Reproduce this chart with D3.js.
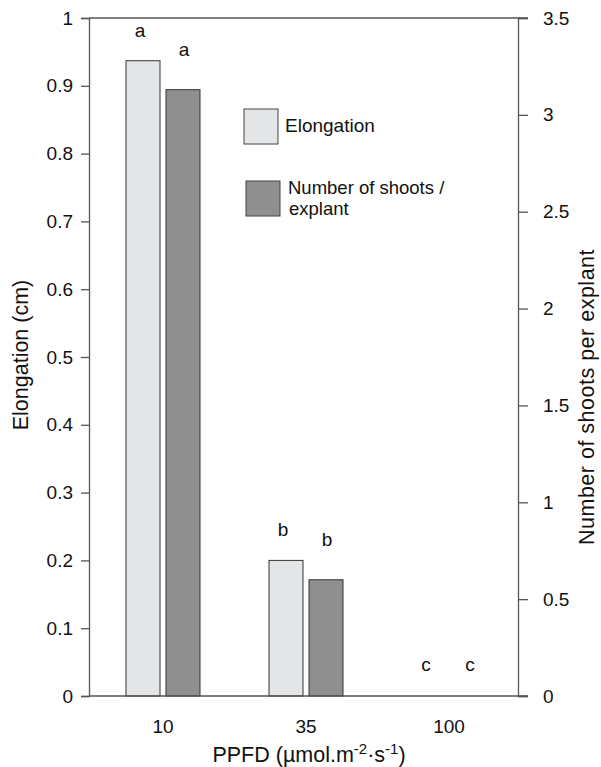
<!DOCTYPE html>
<html>
<head>
<meta charset="utf-8">
<script src="https://cdn.jsdelivr.net/npm/d3@7"></script>
<style>
  body { margin: 0; background: #fff; }
  text { font-family: Arial, "Liberation Sans", sans-serif; fill: #111; }
</style>
</head>
<body>
<svg id="chart" width="601" height="767"></svg>
<script>
'use strict';

// data
const ppfd = ["10", "35", "100"];
const elongation = [0.937, 0.2, 0];       // cm, left axis
const shoots = [3.13, 0.6, 0];            // shoots per explant, right axis
const lettersElong = ["a", "b", "c"];
const lettersShoots = ["a", "b", "c"];
const leftTicks = [0, 0.1, 0.2, 0.3, 0.4, 0.5, 0.6, 0.7, 0.8, 0.9, 1];
const rightTicks = [0, 0.5, 1, 1.5, 2, 2.5, 3, 3.5];

(function () {
	const svg = d3.select("#chart");
	const left = 89, right = 518, top = 18, bottom = 696;
	const axisColor = "#555";

	const yL = d3.scaleLinear().domain([0, 1]).range([bottom, top]);
	const yR = d3.scaleLinear().domain([0, 3.5]).range([bottom, top]);
	const x = d3.scalePoint().domain(ppfd).range([163, 449]);

	const barW = 34;

	// bars
	const g = svg.append("g");
	g.selectAll("rect.elong")
		.data(ppfd.map((p, i) => ({ p, v: elongation[i] })).filter(d => d.v > 0))
		.enter().append("rect")
		.attr("x", d => x(d.p) - 37)
		.attr("y", d => yL(d.v))
		.attr("width", barW)
		.attr("height", d => bottom - yL(d.v))
		.style("fill", "#e4e5e7")
		.style("stroke", "#333")
		.style("stroke-width", 1);

	g.selectAll("rect.shoot")
		.data(ppfd.map((p, i) => ({ p, v: shoots[i] })).filter(d => d.v > 0))
		.enter().append("rect")
		.attr("x", d => x(d.p) + 3)
		.attr("y", d => yR(d.v))
		.attr("width", barW)
		.attr("height", d => bottom - yR(d.v))
		.style("fill", "#8e8f8e")
		.style("stroke", "#333")
		.style("stroke-width", 1);

	// significance letters (sit at the bottom when the bar is empty)
	g.selectAll("text.le")
		.data(ppfd)
		.enter().append("text")
		.attr("x", d => x(d) - 23)
		.attr("y", (d, i) => elongation[i] > 0 ? yL(elongation[i]) - 24 : bottom - 25)
		.attr("text-anchor", "middle")
		.style("font-size", "19px")
		.text((d, i) => lettersElong[i]);

	g.selectAll("text.ls")
		.data(ppfd)
		.enter().append("text")
		.attr("x", d => x(d) + 21)
		.attr("y", (d, i) => shoots[i] > 0 ? yR(shoots[i]) - 34 : bottom - 25)
		.attr("text-anchor", "middle")
		.style("font-size", "19px")
		.text((d, i) => lettersShoots[i]);

	// frame lines (top and bottom)
	svg.append("line")
		.attr("x1", left).attr("x2", right + 10)
		.attr("y1", top).attr("y2", top)
		.style("stroke", axisColor).style("stroke-width", 1.3);
	svg.append("line")
		.attr("x1", left).attr("x2", right + 10)
		.attr("y1", bottom).attr("y2", bottom)
		.style("stroke", axisColor).style("stroke-width", 1.3);

	// left axis
	const axL = svg.append("g")
		.attr("transform", `translate(${left},0)`)
		.call(d3.axisLeft(yL).tickValues(leftTicks).tickSize(8).tickPadding(8)
			.tickFormat(d => d === 0 || d === 1 ? d3.format("d")(d) : d3.format(".1f")(d)));
	axL.select(".domain").attr("stroke", axisColor).attr("stroke-width", 1.3);
	axL.selectAll(".tick line").attr("stroke", axisColor).attr("stroke-width", 1.3);
	axL.selectAll("text").style("font-size", "19px").attr("fill", "#111");

	// right axis
	const axR = svg.append("g")
		.attr("transform", `translate(${right},0)`)
		.call(d3.axisRight(yR).tickValues(rightTicks).tickSize(10).tickPadding(15)
			.tickFormat(d => d3.format("")(d)));
	axR.select(".domain").attr("stroke", axisColor).attr("stroke-width", 1.3);
	axR.selectAll(".tick line").attr("stroke", axisColor).attr("stroke-width", 1.3);
	axR.selectAll("text").style("font-size", "19px").attr("fill", "#111");

	// x axis labels
	svg.selectAll("text.xl")
		.data(ppfd)
		.enter().append("text")
		.attr("x", d => x(d))
		.attr("y", 733)
		.attr("text-anchor", "middle")
		.style("font-size", "19px")
		.text(d => d);

	// axis titles
	const xt = svg.append("text")
		.attr("x", 309)
		.attr("y", 762)
		.attr("text-anchor", "middle")
		.style("font-size", "21.5px");
	xt.append("tspan").text("PPFD (µmol.m");
	xt.append("tspan").attr("dy", -8).style("font-size", "15px").text("-2");
	xt.append("tspan").attr("dy", 8).text("·s");
	xt.append("tspan").attr("dy", -8).style("font-size", "15px").text("-1");
	xt.append("tspan").attr("dy", 8).text(")");

	svg.append("text")
		.attr("transform", `translate(28,355) rotate(-90)`)
		.attr("text-anchor", "middle")
		.style("font-size", "21.5px")
		.text("Elongation (cm)");

	svg.append("text")
		.attr("transform", `translate(594,397) rotate(-90)`)
		.attr("text-anchor", "middle")
		.style("font-size", "21.5px")
		.style("letter-spacing", "0.5px")
		.text("Number of shoots per explant");

	// legend
	const legend = svg.append("g");
	legend.append("rect")
		.attr("x", 244).attr("y", 109).attr("width", 34).attr("height", 35)
		.style("fill", "#e4e5e7").style("stroke", "#444");
	legend.append("text")
		.attr("x", 285).attr("y", 132)
		.style("font-size", "19px")
		.text("Elongation");
	legend.append("rect")
		.attr("x", 246).attr("y", 181).attr("width", 34).attr("height", 35)
		.style("fill", "#8e8f8e").style("stroke", "#444");
	legend.append("text")
		.attr("x", 288).attr("y", 194)
		.style("font-size", "18.5px")
		.text("Number of shoots /");
	legend.append("text")
		.attr("x", 289).attr("y", 215)
		.style("font-size", "18.5px")
		.text("explant");
})();
</script>
</body>
</html>
